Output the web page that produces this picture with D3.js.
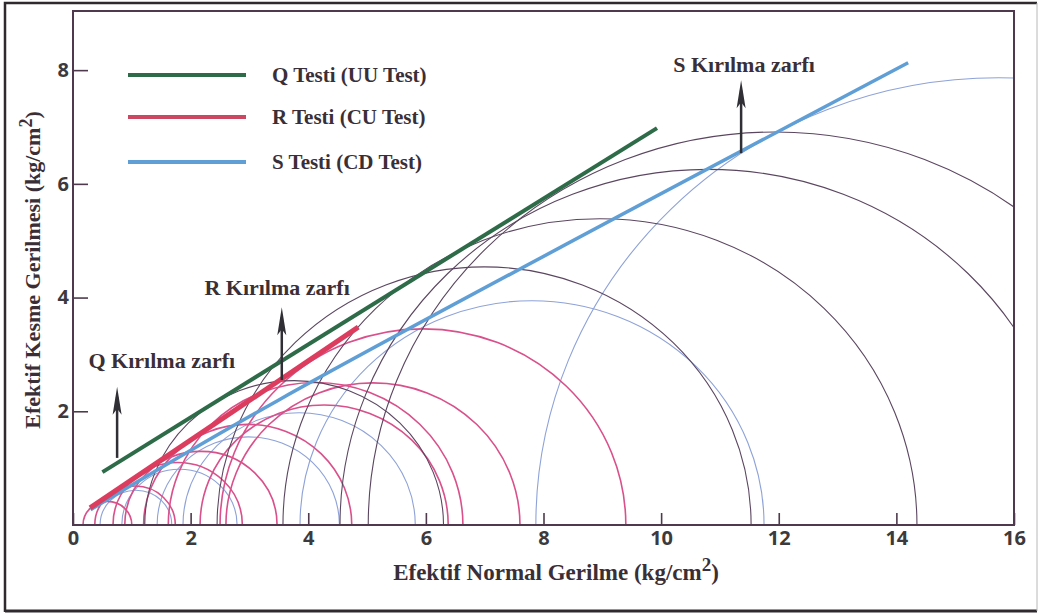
<!DOCTYPE html>
<html>
<head>
<meta charset="utf-8">
<script src="https://d3js.org/d3.v7.min.js"></script>
<style>
  body { margin: 0; background: #fff; }
  .serif { font-family: "Liberation Serif", "Times New Roman", serif; font-weight: bold; fill: #3a2f36; }
  .tick text { font-family: "Open Sans", sans-serif; font-weight: 700; font-size: 20px; fill: #3c3a3c; }
  .tick line { stroke: #4e3a4c; stroke-width: 1.6; }
</style>
</head>
<body>
<script>
// Mohr circles, each as [sigma3, sigma1] in kg/cm2
const qCircles = [[1.22, 6.3], [2.45, 11.53], [3.57, 14.35], [4.54, 17.05], [5.02, 18.85]];
const rCircles = [[0.17, 1.0], [0.37, 1.74], [0.68, 2.88], [0.88, 3.47], [1.2, 4.74],
                  [1.62, 6.63], [2.16, 6.38], [2.6, 7.6], [2.5, 9.4]];
const sCircles = [[0.46, 1.68], [0.83, 2.79], [1.43, 4.53], [1.87, 5.82], [3.86, 11.75], [7.87, 23.6]];

// failure envelopes [sigma, tau]
const qEnvelope = [[0.5, 0.93], [9.93, 6.98]];
const rEnvelope = [[0.29, 0.3], [4.85, 3.48]];
const sEnvelope = [[0.3, 0.27], [3.5, 2.2], [14.2, 8.13]];

// arrows under the envelope labels: [sigma, tauBase, tauTip]
const arrows = [[0.75, 1.18, 2.43], [3.55, 2.55, 3.83], [11.36, 6.54, 7.82]];
const arrowLabels = ["Q Kırılma zarfı", "R Kırılma zarfı", "S Kırılma zarfı"];

const legendLabels = ["Q Testi (UU Test)", "R Testi (CU Test)", "S Testi (CD Test)"];
const xTicks = [0, 2, 4, 6, 8, 10, 12, 14, 16];
const yTicks = [2, 4, 6, 8];

const width = 1039, height = 614;
const colors = { q: "#2e6b48", r: "#dc3c5e", s: "#5f9fd6" };
const circleColors = { q: "#5b4660", r: "#d9508a", s: "#8ea2d8" };

const x = d3.scaleLinear().domain([0, 16]).range([73, 1014]);
const y = d3.scaleLinear().domain([0, 9.04]).range([525, 11]);

const svg = d3.select("body").append("svg")
  .attr("width", width)
  .attr("height", height)
  .style("display", "block");

svg.append("rect").attr("width", width).attr("height", height).attr("fill", "#fff");

// outer frame of the scan
svg.append("path")
  .attr("d", "M5,612 L5,3 L1037,3")
  .attr("fill", "none").attr("stroke", "#2e2a2e").attr("stroke-width", 2.5);
svg.append("line")
  .attr("x1", 5).attr("x2", 1037).attr("y1", 611).attr("y2", 611)
  .attr("stroke", "#2e2a2e").attr("stroke-width", 3);
svg.append("line")
  .attr("x1", 1037).attr("x2", 1037).attr("y1", 3).attr("y2", 611)
  .attr("stroke", "#b8b8b8").attr("stroke-width", 1);

svg.append("clipPath").attr("id", "plot")
  .append("rect")
  .attr("x", x(0)).attr("y", y(9.04))
  .attr("width", x(16) - x(0)).attr("height", y(0) - y(9.04));

const plot = svg.append("g").attr("clip-path", "url(#plot)");

// semicircle from sigma3 to sigma1 (ellipse in px since x/y scales differ slightly)
function semicircle(d) {
  const r = (d[1] - d[0]) / 2;
  const rx = x(r) - x(0), ry = y(0) - y(r);
  return `M${x(d[0])},${y(0)} A${rx},${ry} 0 0 1 ${x(d[1])},${y(0)}`;
}

function drawCircles(data, color, w) {
  plot.append("g").selectAll("path")
    .data(data)
    .join("path")
    .attr("d", semicircle)
    .attr("fill", "none")
    .attr("stroke", color)
    .attr("stroke-width", w);
}

drawCircles(sCircles, circleColors.s, 1.1);
drawCircles(rCircles, circleColors.r, 1.6);
drawCircles(qCircles, circleColors.q, 1.1);

const line = d3.line().x(d => x(d[0])).y(d => y(d[1]));
const curve = d3.line().x(d => x(d[0])).y(d => y(d[1])).curve(d3.curveCatmullRom);

plot.append("path").attr("d", line(qEnvelope))
  .attr("fill", "none").attr("stroke", colors.q).attr("stroke-width", 4);
plot.append("path").attr("d", curve(sEnvelope))
  .attr("fill", "none").attr("stroke", colors.s).attr("stroke-width", 3.5);
plot.append("path").attr("d", line(rEnvelope))
  .attr("fill", "none").attr("stroke", colors.r).attr("stroke-width", 5);

// arrows
const arrowG = svg.append("g");
arrows.forEach(a => {
  const ax = x(a[0]), yb = y(a[1]), yt = y(a[2]);
  arrowG.append("line")
    .attr("x1", ax).attr("x2", ax).attr("y1", yb).attr("y2", yt + 10)
    .attr("stroke", "#2f2f35").attr("stroke-width", 2.5);
  arrowG.append("path")
    .attr("d", `M${ax},${yt} L${ax + 4.5},${yt + 28} L${ax},${yt + 22} L${ax - 4.5},${yt + 28} Z`)
    .attr("fill", "#2f2f35");
});

// envelope labels
const labelPos = [[1.51, 2.76], [3.47, 4.04], [11.41, 7.96]];
svg.append("g").selectAll("text")
  .data(arrowLabels)
  .join("text")
  .attr("class", "serif")
  .attr("x", (d, i) => x(labelPos[i][0]))
  .attr("y", (d, i) => y(labelPos[i][1]))
  .attr("text-anchor", "middle")
  .attr("font-size", 22)
  .text(d => d);

// axes with inward ticks
const xAxis = svg.append("g")
  .attr("transform", `translate(0,${y(0)})`)
  .call(d3.axisBottom(x).tickValues(xTicks).tickSize(-12).tickPadding(6).tickFormat(d3.format("d")));
xAxis.select(".domain").remove();

const yAxis = svg.append("g")
  .attr("transform", `translate(${x(0)},0)`)
  .call(d3.axisLeft(y).tickValues(yTicks).tickSize(-15).tickPadding(4).tickFormat(d3.format("d")));
yAxis.select(".domain").remove();

// plot box
svg.append("rect")
  .attr("x", x(0)).attr("y", y(9.04))
  .attr("width", x(16) - x(0)).attr("height", y(0) - y(9.04))
  .attr("fill", "none").attr("stroke", "#4e3a4c").attr("stroke-width", 2);

// axis titles
const xt = svg.append("text").attr("class", "serif")
  .attr("x", 556).attr("y", 580).attr("text-anchor", "middle").attr("font-size", 23);
xt.append("tspan").text("Efektif Normal Gerilme (kg/cm");
xt.append("tspan").attr("dy", -9).attr("font-size", 19).text("2");
xt.append("tspan").attr("dy", 9).text(")");

const yt = svg.append("text").attr("class", "serif")
  .attr("transform", "translate(40,270) rotate(-90)")
  .attr("text-anchor", "middle").attr("font-size", 22);
yt.append("tspan").text("Efektif Kesme Gerilmesi (kg/cm");
yt.append("tspan").attr("dy", -8).attr("font-size", 18).text("2");
yt.append("tspan").attr("dy", 8).text(")");

// legend
const legend = svg.append("g").selectAll("g")
  .data(legendLabels)
  .join("g")
  .attr("transform", (d, i) => `translate(128,${[75, 117, 162][i]})`);
legend.append("line")
  .attr("x1", 0).attr("x2", 118)
  .attr("stroke", (d, i) => [colors.q, "#cc4862", colors.s][i])
  .attr("stroke-width", 4);
legend.append("text")
  .attr("class", "serif")
  .attr("x", 144).attr("dy", "0.33em")
  .attr("font-size", 21)
  .text(d => d);
</script>
</body>
</html>
